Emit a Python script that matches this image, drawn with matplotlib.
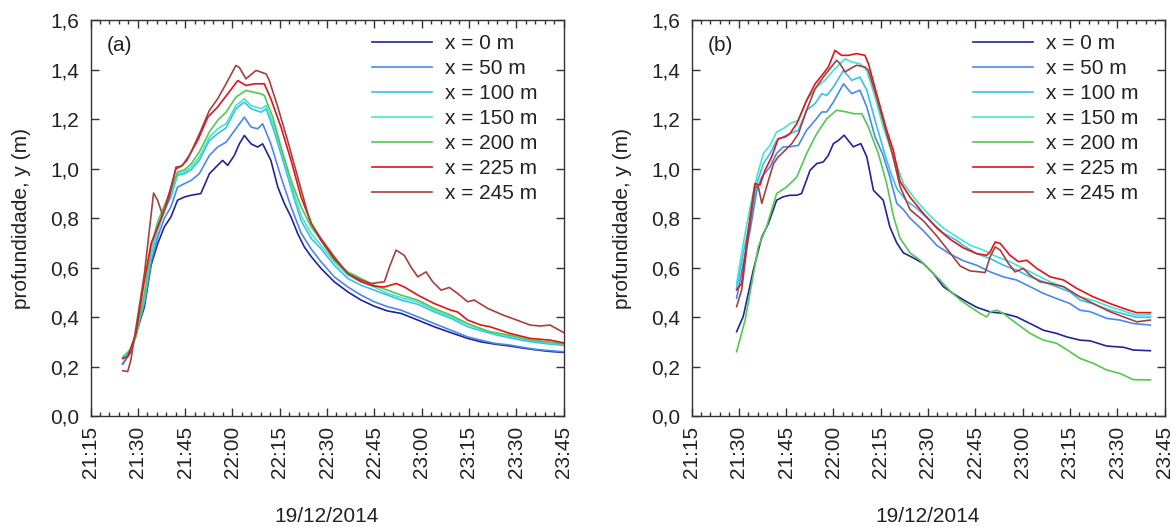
import pandas as pd
import matplotlib
matplotlib.use("Agg")
import matplotlib.pyplot as plt
import matplotlib.dates as mdates
from matplotlib.ticker import FuncFormatter, MultipleLocator

plt.rcParams['font.family'] = ['Liberation Sans', 'DejaVu Sans']
plt.rcParams['font.size'] = 15
TXT = '#222222'

# times in minutes after 21:00 on 19/12/2014, depth in m
# ---- panel (a) ----
a_t0 = [25.2, 27.8, 29.4, 32.1, 34.2, 36.3, 38.4, 40.5, 42.6, 44.8, 46.9, 50.0, 52.7, 55.3, 56.9,
        58.5, 60.6, 62.2, 63.8, 65.9, 68.0, 69.6, 72.2, 74.4, 76.5, 78.6, 80.7, 82.8, 85.0, 88.1,
        92.3, 96.6, 100.8, 105.0, 109.2, 113.5, 118.8, 124.0, 129.3, 134.6, 138.8, 143.1, 148.0,
        152.0, 156.0, 160.0, 165.0]
a_y0 = [0.21, 0.26, 0.33, 0.442, 0.61, 0.697, 0.765, 0.805, 0.873, 0.886, 0.893, 0.90, 0.98, 1.014, 1.034,
        1.014, 1.054, 1.101, 1.135, 1.101, 1.088, 1.101, 1.034, 0.926, 0.859, 0.805, 0.738, 0.684, 0.645, 0.597,
        0.543, 0.502, 0.469, 0.444, 0.425, 0.415, 0.388, 0.361, 0.337, 0.314, 0.30, 0.291, 0.283,
        0.275, 0.268, 0.262, 0.257]

a_t50 = [25.2, 27.8, 29.4, 32.1, 34.2, 36.3, 38.4, 40.5, 42.6, 44.8, 46.9, 49.5, 52.7, 55.3, 58.0,
         61.1, 63.8, 65.9, 68.0, 69.6, 72.2, 75.4, 78.6, 81.8, 85.0, 88.1, 92.3, 96.6, 100.8, 105.0,
         109.2, 113.5, 118.8, 124.0, 129.3, 134.6, 138.8, 143.1, 148.0, 152.0, 156.0, 160.0, 165.0]
a_y50 = [0.21, 0.266, 0.33, 0.455, 0.62, 0.724, 0.80, 0.846, 0.926, 0.94, 0.953, 0.98, 1.054, 1.088, 1.108,
         1.162, 1.209, 1.169, 1.162, 1.182, 1.101, 0.967, 0.846, 0.74, 0.675, 0.624, 0.563, 0.522, 0.489, 0.462,
         0.442, 0.428, 0.401, 0.374, 0.347, 0.32, 0.307, 0.294, 0.287, 0.278, 0.27, 0.265, 0.26]

a_t100 = [25.2, 27.8, 29.4, 32.1, 34.2, 36.3, 38.4, 40.5, 42.6, 44.8, 46.9, 49.5, 52.7, 55.3, 58.0,
          61.1, 63.8, 65.9, 69.1, 70.7, 73.3, 76.5, 79.6, 81.8, 85.0, 88.1, 92.3, 96.6, 100.8, 105.0,
          109.2, 113.5, 118.8, 124.0, 129.3, 134.6, 138.8, 143.1, 148.0, 152.0, 156.0, 160.0, 165.0]
a_y100 = [0.233, 0.27, 0.33, 0.469, 0.65, 0.751, 0.83, 0.886, 0.974, 0.98, 0.996, 1.034, 1.115, 1.142, 1.166,
          1.243, 1.27, 1.243, 1.229, 1.243, 1.149, 1.014, 0.879, 0.79, 0.718, 0.677, 0.61, 0.556, 0.529, 0.509,
          0.489, 0.469, 0.452, 0.421, 0.395, 0.361, 0.345, 0.33, 0.316, 0.306, 0.298, 0.292, 0.286]

a_t150 = a_t100
a_y150 = [0.24, 0.27, 0.33, 0.482, 0.665, 0.765, 0.84, 0.90, 0.98, 0.987, 1.007, 1.047, 1.128, 1.162, 1.182,
          1.256, 1.283, 1.256, 1.243, 1.256, 1.169, 1.034, 0.899, 0.81, 0.738, 0.691, 0.624, 0.57, 0.543, 0.522,
          0.496, 0.479, 0.462, 0.428, 0.401, 0.371, 0.35, 0.335, 0.322, 0.312, 0.304, 0.297, 0.29]

a_t200 = [25.2, 27.8, 29.4, 32.1, 34.2, 36.3, 38.4, 40.5, 42.6, 44.8, 46.9, 49.5, 52.7, 55.3, 58.0,
          61.1, 64.3, 69.1, 70.1, 72.8, 75.4, 78.6, 81.8, 85.0, 88.1, 92.3, 96.6, 100.8, 105.0, 109.2,
          113.5, 118.8, 124.0, 129.3, 134.6, 138.8, 141.7, 148.0, 154.4, 160.0, 165.0]
a_y200 = [0.233, 0.27, 0.32, 0.495, 0.684, 0.785, 0.852, 0.913, 0.987, 0.996, 1.02, 1.068, 1.149, 1.196, 1.229,
          1.29, 1.317, 1.303, 1.297, 1.209, 1.088, 0.953, 0.846, 0.765, 0.711, 0.63, 0.583, 0.556, 0.529, 0.509,
          0.489, 0.469, 0.435, 0.408, 0.374, 0.354, 0.341, 0.327, 0.307, 0.30, 0.292]

a_t225 = [25.2, 26.8, 29.4, 32.1, 34.2, 36.3, 38.4, 40.5, 42.1, 44.2, 46.3, 49.0, 52.2, 55.3, 58.5,
          61.7, 64.3, 67.0, 70.1, 72.2, 75.4, 78.6, 81.8, 85.0, 88.1, 92.3, 96.6, 100.8, 105.0, 108.2,
          111.9, 114.5, 118.8, 124.0, 129.3, 131.4, 134.6, 138.8, 141.7, 148.0, 154.4, 160.7, 165.0]
a_y225 = [0.233, 0.24, 0.334, 0.549, 0.697, 0.765, 0.832, 0.926, 1.0, 1.014, 1.054, 1.115, 1.209, 1.25, 1.303,
          1.357, 1.337, 1.344, 1.344, 1.283, 1.169, 1.034, 0.885, 0.78, 0.711, 0.637, 0.576, 0.543, 0.525, 0.522,
          0.536, 0.522, 0.489, 0.455, 0.428, 0.421, 0.388, 0.368, 0.361, 0.334, 0.314, 0.307, 0.296]

a_t245 = [25.2, 26.8, 27.8, 32.1, 35.0, 36.3, 37.9, 40.0, 42.1, 43.7, 45.6, 46.9, 50.0, 52.7, 55.3,
          58.0, 61.1, 62.2, 64.3, 67.5, 70.7, 71.7, 74.4, 77.5, 80.7, 83.9, 85.0, 88.1, 92.3, 96.6,
          100.8, 104.0, 108.2, 109.8, 111.9, 114.5, 116.6, 118.8, 121.4, 123.5, 126.2, 128.8, 131.4,
          134.6, 136.7, 141.0, 145.9, 150.2, 154.4, 157.6, 160.7, 165.0]
a_y245 = [0.183, 0.18, 0.226, 0.576, 0.902, 0.872, 0.812, 0.886, 1.007, 1.01, 1.034, 1.068, 1.155, 1.236, 1.283,
          1.344, 1.418, 1.41, 1.364, 1.398, 1.384, 1.357, 1.25, 1.115, 0.967, 0.819, 0.778, 0.718, 0.644, 0.576,
          0.55, 0.536, 0.543, 0.603, 0.671, 0.65, 0.603, 0.563, 0.583, 0.543, 0.509, 0.52, 0.496,
          0.462, 0.469, 0.435, 0.408, 0.388, 0.368, 0.364, 0.368, 0.338]

# ---- panel (b) ----
b_t0 = [29.3, 31.4, 34.6, 37.3, 39.4, 42.0, 44.1, 46.2, 48.4, 49.9, 52.6, 54.7, 56.8, 58.4, 60.0,
        61.6, 63.4, 64.7, 66.3, 68.7, 70.6, 72.7, 75.8, 77.9, 80.1, 82.2, 85.3, 88.5, 91.7, 94.9,
        98.0, 101.2, 105.4, 109.7, 113.9, 118.1, 122.4, 126.6, 130.8, 134.0, 138.2, 141.4, 146.7,
        152.0, 155.1, 160.5]
b_y0 = [0.341, 0.402, 0.59, 0.725, 0.779, 0.873, 0.887, 0.893, 0.893, 0.90, 0.994, 1.021, 1.028, 1.055, 1.102,
        1.115, 1.136, 1.115, 1.089, 1.102, 1.048, 0.913, 0.873, 0.765, 0.70, 0.66, 0.64, 0.617, 0.576, 0.523,
        0.495, 0.47, 0.44, 0.421, 0.415, 0.401, 0.374, 0.347, 0.334, 0.32, 0.307, 0.304, 0.283,
        0.278, 0.267, 0.264]

b_t50 = [29.3, 31.4, 33.6, 35.7, 37.3, 39.9, 42.0, 44.1, 46.2, 48.9, 51.5, 54.2, 56.3, 57.9, 60.0,
         63.2, 65.8, 68.4, 70.6, 73.2, 75.6, 77.9, 80.1, 82.2, 84.3, 88.5, 92.8, 97.0, 101.2, 105.4,
         109.7, 113.9, 118.1, 122.4, 126.6, 130.8, 135.0, 138.2, 141.4, 146.7, 150.9, 155.1, 160.5]
b_y50 = [0.476, 0.617, 0.752, 0.913, 0.967, 1.008, 1.062, 1.089, 1.089, 1.095, 1.156, 1.196, 1.23, 1.23, 1.27,
         1.344, 1.304, 1.318, 1.25, 1.129, 1.06, 0.967, 0.86, 0.835, 0.80, 0.75, 0.69, 0.655, 0.628, 0.61,
         0.583, 0.563, 0.55, 0.523, 0.496, 0.475, 0.455, 0.428, 0.422, 0.395, 0.388, 0.374, 0.368]

b_t100 = [29.3, 31.4, 33.6, 35.7, 37.8, 39.9, 42.0, 44.1, 46.2, 48.9, 51.5, 54.2, 56.3, 57.9, 60.0,
          63.2, 65.8, 68.4, 70.6, 73.2, 76.3, 78.0, 80.1, 83.2, 86.4, 90.6, 94.9, 99.1, 101.2, 105.4,
          109.7, 113.9, 118.1, 122.4, 126.6, 130.8, 135.0, 138.2, 142.0, 147.7, 156.2, 160.5]
b_y100 = [0.516, 0.658, 0.792, 0.94, 1.021, 1.062, 1.115, 1.129, 1.142, 1.156, 1.237, 1.264, 1.304, 1.297, 1.331,
          1.398, 1.358, 1.371, 1.318, 1.196, 1.06, 0.99, 0.92, 0.87, 0.84, 0.79, 0.74, 0.71, 0.69, 0.657,
          0.637, 0.61, 0.59, 0.563, 0.543, 0.523, 0.502, 0.469, 0.455, 0.428, 0.399, 0.40]

b_t150 = [29.3, 31.4, 33.6, 35.7, 37.8, 39.9, 42.0, 44.1, 46.2, 48.9, 51.5, 54.7, 57.3, 60.0, 63.7,
          65.8, 68.4, 70.6, 73.2, 75.8, 79.0, 81.1, 82.2, 86.4, 90.6, 94.9, 99.1, 103.3, 107.6, 111.8,
          116.0, 120.2, 124.5, 128.7, 133.0, 138.2, 143.0, 147.7, 156.2, 160.5]
b_y150 = [0.536, 0.698, 0.846, 0.967, 1.062, 1.095, 1.149, 1.163, 1.183, 1.196, 1.277, 1.331, 1.358, 1.398, 1.445,
          1.432, 1.425, 1.398, 1.29, 1.169, 1.048, 0.98, 0.94, 0.87, 0.81, 0.76, 0.725, 0.691, 0.671, 0.644,
          0.624, 0.597, 0.57, 0.543, 0.523, 0.482, 0.465, 0.442, 0.408, 0.41]

b_t200 = [29.3, 32.0, 34.1, 36.2, 38.8, 42.0, 45.2, 48.4, 51.5, 54.7, 57.9, 61.0, 64.2, 66.3, 69.0,
          71.1, 72.5, 74.3, 76.9, 79.0, 81.1, 84.3, 87.5, 90.6, 93.8, 97.0, 100.2, 103.3, 106.5, 108.6,
          109.7, 111.8, 113.9, 118.1, 122.4, 126.6, 130.8, 135.0, 138.2, 142.4, 146.7, 150.9, 155.1, 160.5]
b_y200 = [0.26, 0.388, 0.536, 0.685, 0.765, 0.90, 0.927, 0.967, 1.062, 1.142, 1.203, 1.237, 1.23, 1.223, 1.223,
          1.169, 1.12, 1.06, 0.94, 0.81, 0.72, 0.66, 0.63, 0.59, 0.55, 0.505, 0.47, 0.442, 0.415, 0.401,
          0.421, 0.428, 0.415, 0.374, 0.334, 0.307, 0.294, 0.26, 0.233, 0.213, 0.186, 0.172, 0.147, 0.146]

b_t225 = [29.3, 30.9, 33.0, 35.1, 36.7, 38.3, 40.4, 42.5, 44.7, 46.2, 48.4, 51.5, 54.2, 56.8, 58.4,
          60.5, 62.6, 64.7, 67.4, 70.0, 71.1, 73.7, 76.9, 79.0, 81.1, 84.3, 88.5, 92.8, 97.0, 101.2,
          105.4, 108.6, 109.7, 111.3, 112.9, 116.0, 118.7, 121.3, 124.5, 128.7, 133.0, 137.2, 142.4,
          147.7, 152.0, 156.2, 160.5]
b_y225 = [0.51, 0.536, 0.752, 0.94, 0.934, 0.994, 1.048, 1.122, 1.129, 1.142, 1.183, 1.277, 1.344, 1.385, 1.412,
          1.479, 1.459, 1.459, 1.466, 1.459, 1.425, 1.304, 1.156, 1.075, 0.95, 0.885, 0.82, 0.76, 0.715, 0.68,
          0.657, 0.65, 0.664, 0.704, 0.698, 0.65, 0.624, 0.63, 0.597, 0.563, 0.55, 0.516, 0.482,
          0.455, 0.435, 0.418, 0.418]

b_t245 = [29.3, 30.9, 33.0, 35.1, 36.2, 37.3, 38.8, 41.0, 42.5, 44.7, 46.8, 48.9, 51.5, 54.2, 56.8,
          58.9, 61.0, 62.1, 63.7, 65.3, 67.4, 70.0, 71.1, 73.7, 76.9, 78.5, 81.1, 84.3, 88.5, 92.8,
          97.0, 100.2, 103.3, 106.5, 108.1, 109.7, 111.3, 112.9, 115.5, 117.6, 120.2, 122.4, 125.5,
          128.7, 133.0, 137.2, 142.4, 147.7, 152.0, 156.2, 160.5]
b_y245 = [0.442, 0.51, 0.725, 0.927, 0.927, 0.86, 0.927, 1.021, 1.048, 1.075, 1.102, 1.142, 1.237, 1.324, 1.371,
          1.405, 1.439, 1.425, 1.392, 1.405, 1.419, 1.412, 1.398, 1.29, 1.142, 1.07, 0.93, 0.835, 0.79, 0.728,
          0.66, 0.607, 0.587, 0.583, 0.58, 0.644, 0.684, 0.671, 0.617, 0.583, 0.597, 0.57, 0.543,
          0.536, 0.523, 0.489, 0.455, 0.422, 0.401, 0.381, 0.388]

labels = ["x = 0 m", "x = 50 m", "x = 100 m", "x = 150 m", "x = 200 m", "x = 225 m", "x = 245 m"]
colors = ["#23239b", "#4a87ef", "#38bff2", "#45e6cf", "#52c94f", "#e2131a", "#a5403f"]

panel_a = [(a_t0, a_y0), (a_t50, a_y50), (a_t100, a_y100), (a_t150, a_y150),
           (a_t200, a_y200), (a_t225, a_y225), (a_t245, a_y245)]
panel_b = [(b_t0, b_y0), (b_t50, b_y50), (b_t100, b_y100), (b_t150, b_y150),
           (b_t200, b_y200), (b_t225, b_y225), (b_t245, b_y245)]

base = pd.Timestamp("2014-12-19 21:00")


def to_time(minutes):
    return base + pd.to_timedelta(minutes, unit="m")


fig = plt.figure(figsize=(11.76, 5.27), dpi=100)
W, H = 1176, 527
ax1 = fig.add_axes([90.5 / W, (H - 416) / H, 473 / W, 395.5 / H])
ax2 = fig.add_axes([691.5 / W, (H - 416) / H, 473 / W, 395.5 / H])

for ax, series, tag in [(ax1, panel_a, "(a)"), (ax2, panel_b, "(b)")]:
    for (t, y), lab, c in zip(series, labels, colors):
        ax.plot(to_time(t), y, color=c, lw=1.2, label=lab)

    ax.set_xlim(to_time(15), to_time(165))
    ax.set_ylim(0, 1.6)
    ax.xaxis.set_major_locator(mdates.MinuteLocator(byminute=[0, 15, 30, 45]))
    ax.xaxis.set_minor_locator(mdates.MinuteLocator(byminute=range(0, 60, 3)))
    ax.xaxis.set_major_formatter(mdates.DateFormatter("%H:%M"))
    ax.yaxis.set_major_locator(MultipleLocator(0.2))
    ax.yaxis.set_major_formatter(FuncFormatter(lambda v, _: f"{v:.1f}".replace(".", ",")))

    ax.tick_params(which="both", direction="in", top=True, right=True, colors="#333333",
                   labelcolor=TXT, labelsize=15)
    ax.tick_params(which="major", length=6, width=1)
    ax.tick_params(which="minor", length=3, width=1)
    ax.tick_params(axis="x", which="major", pad=7, labelrotation=90)
    ax.tick_params(axis="y", pad=8)
    for s in ax.spines.values():
        s.set_color("#333333")
        s.set_linewidth(1)

    ax.set_xlabel("19/12/2014", color=TXT, fontsize=15, labelpad=21)
    ax.set_ylabel("profundidade, y (m)", color=TXT, fontsize=15, labelpad=14)
    ax.text(0.035, 0.938, tag, transform=ax.transAxes, ha="left", va="center",
            fontsize=15, color=TXT)

    leg = ax.legend(loc="upper left", bbox_to_anchor=(0.595, 0.966), frameon=False,
                    borderpad=0, borderaxespad=0, handlelength=2.9, handletextpad=0.62,
                    labelspacing=0.29, fontsize=15)
    for txt in leg.get_texts():
        txt.set_color(TXT)

fig.savefig("out.png", dpi=100)
